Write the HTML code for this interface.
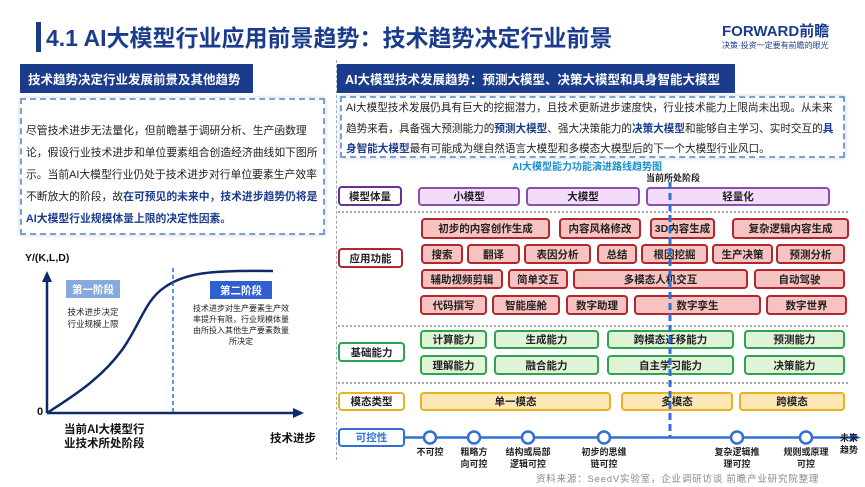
<!DOCTYPE html>
<html><head><meta charset="utf-8"><style>
*{margin:0;padding:0;box-sizing:border-box}
body{width:865px;height:487px;background:#fff;position:relative;overflow:hidden;font-family:"Liberation Sans","Noto Sans CJK SC",sans-serif}
.a{position:absolute}
.b{position:absolute;display:flex;align-items:center;justify-content:center;font-size:10.5px;font-weight:bold;color:#222;border-radius:4px;white-space:nowrap}
.p{background:#f3dcf7;border:2px solid #8a4fb0}
.r{background:#f7c3c0;border:2px solid #b3262e}
.g{background:#dff3d6;border:2px solid #2ea44f}
.o{background:#fde7b5;border:2px solid #e7b320}
.l{background:#fff;border:2px solid #b3262e}
.hd{position:absolute;background:#1b3c8c;color:#fff;font-weight:bold;font-size:12.5px;display:flex;align-items:center;padding-left:8px;white-space:nowrap}
.sep{position:absolute;border-top:2px dotted #aaa;height:0}
.hl{color:#1b3c8c;font-weight:bold}
.tl{position:absolute;font-size:9px;font-weight:bold;text-align:center;line-height:12px;color:#222}
</style></head><body>
<div class="a" style="left:36px;top:22px;width:5px;height:30px;background:#1b3c8c"></div>
<div class="a" style="left:46px;top:23px;font-size:23px;font-weight:bold;color:#1b3c8c;line-height:30px;white-space:nowrap">4.1 AI大模型行业应用前景趋势：技术趋势决定行业前景</div>
<div class="a" style="left:722px;top:20px;font-size:15px;font-weight:bold;color:#1b3c8c">FORWARD前瞻</div>
<div class="a" style="left:722px;top:40px;font-size:8px;color:#1b3c8c">决策·投资一定要有前瞻的眼光</div>

<div class="hd" style="left:20px;top:64px;width:233px;height:29px">技术趋势决定行业发展前景及其他趋势</div>
<div class="a" style="left:20px;top:98px;width:305px;height:137px;border:2px dashed #7aa0d0;box-shadow:0 0 4px #ccd"></div>
<div class="a" style="left:26px;top:120px;width:296px;font-size:10.8px;line-height:22px;color:#222">尽管技术进步无法量化，但前瞻基于调研分析、生产函数理论，假设行业技术进步和单位要素组合创造经济曲线如下图所示。当前AI大模型行业仍处于技术进步对行单位要素生产效率不断放大的阶段，故<span class="hl">在可预见的未来中，技术进步趋势仍将是AI大模型行业规模体量上限的决定性因素。</span></div>

<div class="a" style="left:336px;top:60px;height:400px;border-left:1px dashed #9ab"></div>
<div class="hd" style="left:337px;top:64px;width:398px;height:29px">AI大模型技术发展趋势：预测大模型、决策大模型和具身智能大模型</div>
<div class="a" style="left:340px;top:96px;width:505px;height:62px;border:2px dashed #7aa0d0;box-shadow:0 0 4px #ccd"></div>
<div class="a" style="left:346px;top:98px;width:490px;font-size:10.6px;line-height:20.5px;color:#222">AI大模型技术发展仍具有巨大的挖掘潜力，且技术更新进步速度快，行业技术能力上限尚未出现。从未来趋势来看，具备强大预测能力的<span class="hl">预测大模型</span>、强大决策能力的<span class="hl">决策大模型</span>和能够自主学习、实时交互的<span class="hl">具身智能大模型</span>最有可能成为继自然语言大模型和多模态大模型后的下一个大模型行业风口。</div>
<div class="a" style="left:512px;top:158px;font-size:10px;font-weight:bold;color:#1a8fd0">AI大模型能力功能演进路线趋势图</div>
<div class="a" style="left:646px;top:171px;font-size:9px;font-weight:bold;color:#222">当前所处阶段</div>

<div class="b" style="left:338px;top:186px;width:64px;height:20px;border:2px solid #6a2f8f;background:#fff">模型体量</div>
<div class="b p" style="left:418px;top:187px;width:102px;height:19px">小模型</div>
<div class="b p" style="left:526px;top:187px;width:114px;height:19px">大模型</div>
<div class="b p" style="left:646px;top:187px;width:184px;height:19px">轻量化</div>
<div class="sep" style="left:338px;top:211px;width:510px"></div>

<div class="b l" style="left:338px;top:248px;width:65px;height:20px">应用功能</div>
<div class="b r" style="left:421px;top:218px;width:129px;height:21px">初步的内容创作生成</div>
<div class="b r" style="left:559px;top:218px;width:82px;height:21px">内容风格修改</div>
<div class="b r" style="left:650px;top:218px;width:65px;height:21px">3D内容生成</div>
<div class="b r" style="left:732px;top:218px;width:117px;height:21px">复杂逻辑内容生成</div>
<div class="b r" style="left:421px;top:244px;width:42px;height:20px">搜索</div>
<div class="b r" style="left:467px;top:244px;width:53px;height:20px">翻译</div>
<div class="b r" style="left:524px;top:244px;width:67px;height:20px">表因分析</div>
<div class="b r" style="left:597px;top:244px;width:40px;height:20px">总结</div>
<div class="b r" style="left:641px;top:244px;width:67px;height:20px">根因挖掘</div>
<div class="b r" style="left:712px;top:244px;width:61px;height:20px">生产决策</div>
<div class="b r" style="left:776px;top:244px;width:69px;height:20px">预测分析</div>
<div class="b r" style="left:421px;top:269px;width:82px;height:20px">辅助视频剪辑</div>
<div class="b r" style="left:508px;top:269px;width:60px;height:20px">简单交互</div>
<div class="b r" style="left:573px;top:269px;width:175px;height:20px">多模态人机交互</div>
<div class="b r" style="left:754px;top:269px;width:91px;height:20px">自动驾驶</div>
<div class="b r" style="left:420px;top:295px;width:67px;height:20px">代码撰写</div>
<div class="b r" style="left:492px;top:295px;width:68px;height:20px">智能座舱</div>
<div class="b r" style="left:566px;top:295px;width:62px;height:20px">数字助理</div>
<div class="b r" style="left:634px;top:295px;width:127px;height:20px">数字孪生</div>
<div class="b r" style="left:766px;top:295px;width:81px;height:20px">数字世界</div>
<div class="sep" style="left:338px;top:325px;width:510px"></div>

<div class="b" style="left:338px;top:342px;width:67px;height:20px;border:2px solid #2ea44f;background:#fff">基础能力</div>
<div class="b g" style="left:420px;top:330px;width:67px;height:19px">计算能力</div>
<div class="b g" style="left:494px;top:330px;width:105px;height:19px">生成能力</div>
<div class="b g" style="left:607px;top:330px;width:127px;height:19px">跨模态迁移能力</div>
<div class="b g" style="left:744px;top:330px;width:101px;height:19px">预测能力</div>
<div class="b g" style="left:420px;top:355px;width:67px;height:20px">理解能力</div>
<div class="b g" style="left:494px;top:355px;width:105px;height:20px">融合能力</div>
<div class="b g" style="left:607px;top:355px;width:127px;height:20px">自主学习能力</div>
<div class="b g" style="left:744px;top:355px;width:101px;height:20px">决策能力</div>
<div class="sep" style="left:338px;top:382px;width:510px"></div>

<div class="b" style="left:338px;top:392px;width:67px;height:19px;border:2px solid #e7b320;background:#fff">模态类型</div>
<div class="b o" style="left:420px;top:392px;width:191px;height:19px">单一模态</div>
<div class="b o" style="left:621px;top:392px;width:112px;height:19px">多模态</div>
<div class="b o" style="left:739px;top:392px;width:106px;height:19px">跨模态</div>

<div class="b" style="left:338px;top:428px;width:67px;height:19px;border:2px solid #2f6fd6;background:#fff;color:#2f6fd6">可控性</div>
<svg class="a" style="left:0;top:0" width="865" height="487">
<line x1="670" y1="182" x2="670" y2="438" stroke="#2f6fd6" stroke-width="3" stroke-dasharray="7,4"/>
<line x1="405" y1="437.5" x2="852" y2="437.5" stroke="#2f6fd6" stroke-width="2.5"/>
<polygon points="861,437.5 850,433 850,442" fill="#2f6fd6"/>
<g fill="#fff" stroke="#2f6fd6" stroke-width="2.5">
<circle cx="430" cy="437.5" r="6"/><circle cx="474" cy="437.5" r="6"/><circle cx="528" cy="437.5" r="6"/><circle cx="604" cy="437.5" r="6"/><circle cx="737" cy="437.5" r="6"/><circle cx="806" cy="437.5" r="6"/></g>
<line x1="47" y1="413" x2="47" y2="280" stroke="#0f2a6b" stroke-width="2.5"/>
<polygon points="47,271 42,282 52,282" fill="#0f2a6b"/>
<line x1="47" y1="413" x2="295" y2="413" stroke="#0f2a6b" stroke-width="2.5"/>
<polygon points="304,413 293,408 293,418" fill="#0f2a6b"/>
<path d="M47,413 C70,398 100,380 122,350 C140,325 145,300 165,287 C185,273 210,270 273,271" fill="none" stroke="#0f2a6b" stroke-width="2.5"/>
<line x1="173" y1="268" x2="173" y2="414" stroke="#2f6fd6" stroke-width="1.5" stroke-dasharray="4,3"/>
</svg>
<div class="a" style="left:25px;top:252px;font-size:10.5px;font-weight:bold;color:#111">Y/(K,L,D)</div>
<div class="a" style="left:37px;top:406px;font-size:11px;font-weight:bold;color:#111">0</div>
<div class="b" style="left:66px;top:280px;width:54px;height:18px;background:#86aadd;color:#fff;border-radius:0">第一阶段</div>
<div class="tl" style="left:60px;top:306px;width:66px;font-weight:normal;font-size:8.5px">技术进步决定<br>行业规模上限</div>
<div class="b" style="left:210px;top:281px;width:62px;height:18px;background:#2f5fd0;color:#fff;border-radius:0">第二阶段</div>
<div class="tl" style="left:193px;top:303px;width:96px;font-weight:normal;font-size:8px;line-height:11px">技术进步对生产要素生产效率提升有限，行业规模体量由所投入其他生产要素数量所决定</div>
<div class="a" style="left:64px;top:423px;width:100px;font-size:11.5px;font-weight:bold;line-height:14px;color:#111">当前AI大模型行<br>业技术所处阶段</div>
<div class="a" style="left:270px;top:430px;font-size:11.5px;font-weight:bold;color:#111">技术进步</div>

<div class="tl" style="left:410px;top:446px;width:40px">不可控</div>
<div class="tl" style="left:452px;top:446px;width:44px">粗略方<br>向可控</div>
<div class="tl" style="left:498px;top:446px;width:60px">结构或局部<br>逻辑可控</div>
<div class="tl" style="left:574px;top:446px;width:60px">初步的思维<br>链可控</div>
<div class="tl" style="left:705px;top:446px;width:64px">复杂逻辑推<br>理可控</div>
<div class="tl" style="left:775px;top:446px;width:62px">规则或原理<br>可控</div>
<div class="tl" style="left:840px;top:432px;width:26px;text-align:left">未来<br>趋势</div>
<div class="a" style="left:536px;top:471px;font-size:9.5px;color:#888;letter-spacing:0.8px">资料来源：SeedV实验室，企业调研访谈 前瞻产业研究院整理</div>
</body></html>
